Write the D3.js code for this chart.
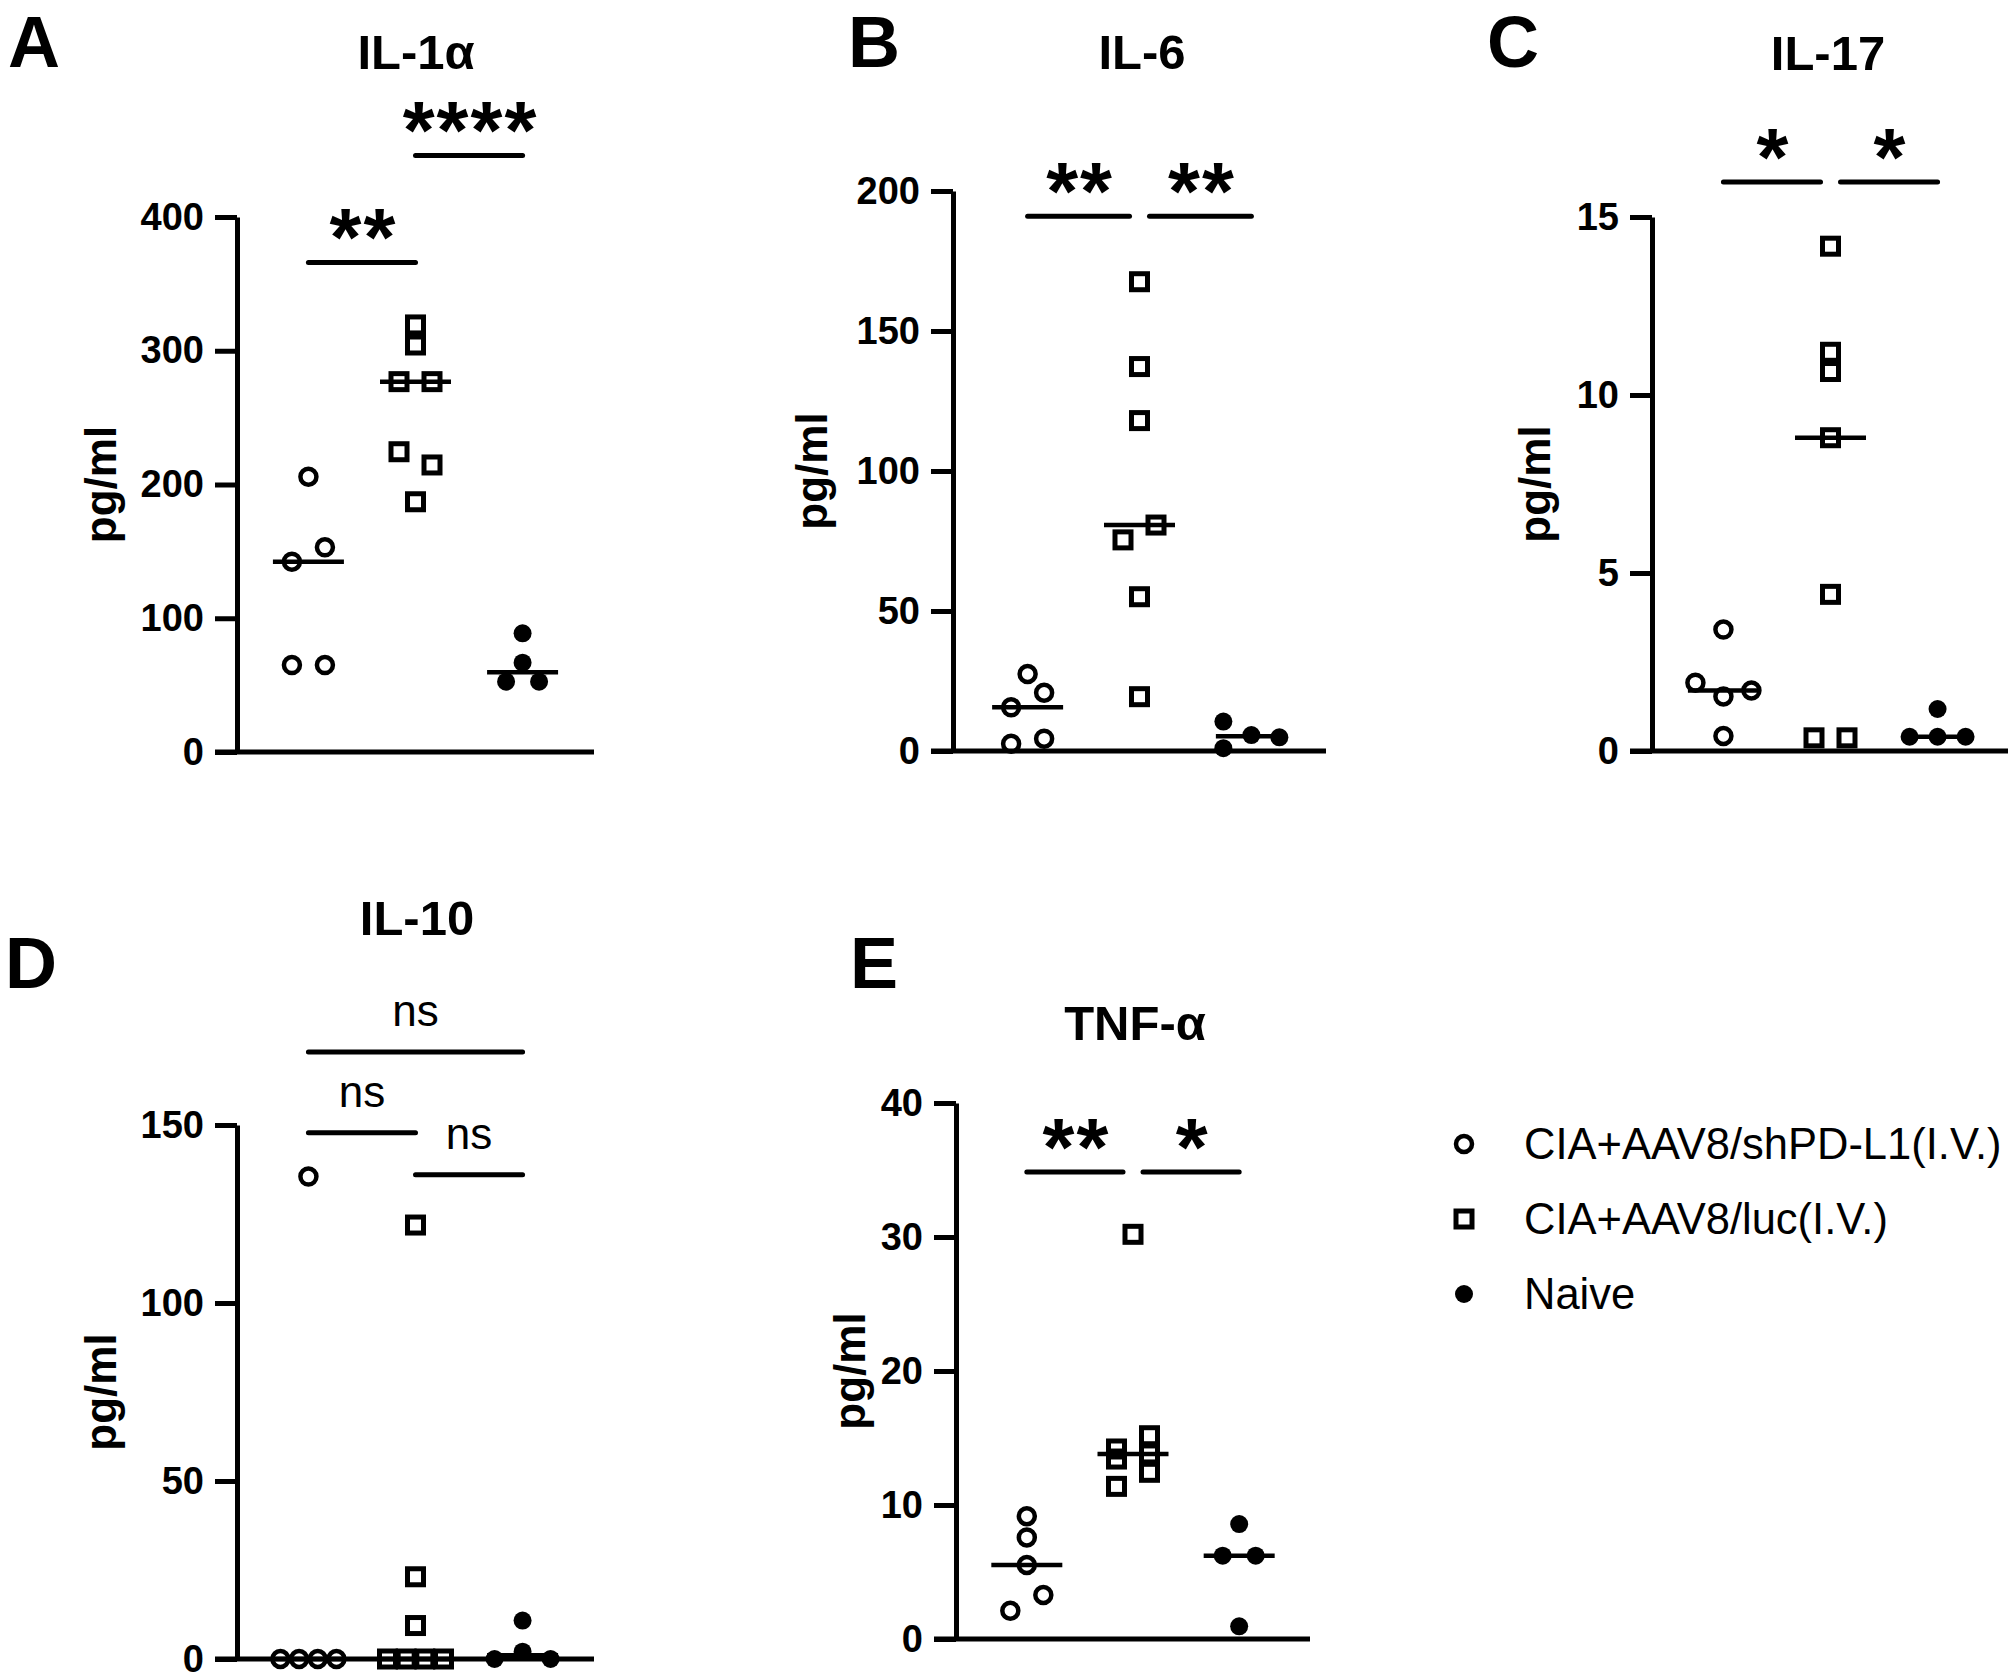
<!DOCTYPE html>
<html><head><meta charset="utf-8">
<script src="https://cdn.jsdelivr.net/npm/d3@7"></script>
<style>
html,body{margin:0;padding:0;background:#fff;}
svg{display:block;}
text{font-family:"Liberation Sans", Arial, Helvetica, sans-serif; fill:#000;}
</style></head><body>
<svg id="fig" width="2008" height="1680"></svg>
<script>
// ---------------- data ----------------
const groupNames = ["CIA+AAV8/shPD-L1(I.V.)", "CIA+AAV8/luc(I.V.)", "Naive"];
const cytokines = ["IL-1α", "IL-6", "IL-17", "IL-10", "TNF-α"];
const panelLetters = ["A", "B", "C", "D", "E"];
const yLabel = "pg/ml";

// IL-1α
const il1a_shPDL1 = [205.8, 142.3, 153.0, 65.0, 65.0];
const il1a_luc    = [319.3, 304.3, 276.9, 276.9, 224.5, 214.6, 187.1];
const il1a_naive  = [88.7, 66.8, 52.6, 52.6];
const il1a_ticks  = [0, 100, 200, 300, 400];
const il1a_sig    = [[0, 1, "**", 366], [1, 2, "****", 446]];

// IL-6
const il6_shPDL1 = [27.5, 15.6, 20.8, 2.6, 4.4];
const il6_luc    = [167.6, 137.3, 118.0, 75.4, 80.7, 55.1, 19.4];
const il6_naive  = [10.5, 5.7, 4.9, 1.0];
const il6_ticks  = [0, 50, 100, 150, 200];
const il6_sig    = [[0, 1, "**", 191], [1, 2, "**", 191]];

// IL-17
const il17_shPDL1 = [3.41, 1.92, 1.53, 1.70, 0.42];
const il17_luc    = [14.18, 11.20, 10.66, 8.80, 4.40, 0.37, 0.37];
const il17_naive  = [1.18, 0.40, 0.40, 0.40];
const il17_ticks  = [0, 5, 10, 15];
const il17_sig    = [[0, 1, "*", 15.98], [1, 2, "*", 15.98]];

// IL-10
const il10_shPDL1 = [135.5, 0, 0, 0, 0];
const il10_luc    = [121.9, 23.1, 9.4, 0, 0, 0, 0];
const il10_naive  = [10.8, 0, 2.06, 0];
const il10_ticks  = [0, 50, 100, 150];
const il10_sig    = [[0, 2, "ns", 170.5], [0, 1, "ns", 147.8], [1, 2, "ns", 136]];

// TNF-α
const tnf_shPDL1 = [9.16, 7.58, 5.52, 2.11, 3.28];
const tnf_luc    = [30.2, 14.18, 15.17, 13.43, 13.81, 11.39, 12.44];
const tnf_naive  = [8.58, 6.22, 6.22, 0.95];
const tnf_ticks  = [0, 10, 20, 30, 40];
const tnf_sig    = [[0, 1, "**", 34.85], [1, 2, "*", 34.85]];

// ---------------- layout (pixels) ----------------
const panels = [
  {series:[il1a_shPDL1, il1a_luc, il1a_naive], ticks:il1a_ticks, sig:il1a_sig,
   x0:237, W:357, yTop:217, yBot:752, letter:[8,67], title:[416,69], ylab:104},
  {series:[il6_shPDL1, il6_luc, il6_naive], ticks:il6_ticks, sig:il6_sig,
   x0:953, W:373, yTop:191, yBot:751, letter:[848,67], title:[1142,69], ylab:815},
  {series:[il17_shPDL1, il17_luc, il17_naive], ticks:il17_ticks, sig:il17_sig,
   x0:1652, W:357, yTop:217, yBot:751, letter:[1487,67], title:[1828,70], ylab:1538},
  {series:[il10_shPDL1, il10_luc, il10_naive], ticks:il10_ticks, sig:il10_sig,
   x0:237, W:357, yTop:1125, yBot:1659, letter:[5,988], title:[417,935], ylab:104},
  {series:[tnf_shPDL1, tnf_luc, tnf_naive], ticks:tnf_ticks, sig:tnf_sig,
   x0:956, W:354, yTop:1103, yBot:1639, letter:[850,988], title:[1135,1040], ylab:853}
];

const svg = d3.select("#fig");
const STROKE = 5;
const MARK = 17;           // marker footprint for overlap tests
const PAIR = 33, ROW = 56; // horizontal spreading

function drawMarker(g, type, x, y) {
  if (type === 0) {
    g.append("circle").attr("cx", x).attr("cy", y).attr("r", 8)
      .attr("fill", "none").attr("stroke", "#000").attr("stroke-width", 4.5);
  } else if (type === 1) {
    g.append("rect").attr("x", x - 8).attr("y", y - 8).attr("width", 16).attr("height", 16)
      .attr("fill", "none").attr("stroke", "#000").attr("stroke-width", 5);
  } else {
    g.append("circle").attr("cx", x).attr("cy", y).attr("r", 9).attr("fill", "#000");
  }
}

// scatter spreading of points that overlap vertically (Prism-like)
function spread(values, y, cx) {
  const pts = values.map((v, i) => ({v, i, py: y(v), px: cx}));
  const sorted = pts.slice().sort((a, b) => a.py - b.py || a.i - b.i);
  const bins = [];
  sorted.forEach(p => {
    const cur = bins[bins.length - 1];
    if (cur && p.py - cur[0].py < MARK) cur.push(p); else bins.push([p]);
  });
  const placed = [];
  bins.forEach(bin => {
    bin.sort((a, b) => a.i - b.i);
    const n = bin.length;
    if (n === 1) {
      const p = bin[0];
      const cands = [0, -ROW / 2, ROW / 2, -ROW, ROW];
      for (const c of cands) {
        const hit = placed.some(q => Math.abs(q.px - (cx + c)) < MARK && Math.abs(q.py - p.py) < MARK);
        if (!hit) { p.px = cx + c; break; }
      }
    } else {
      const sp = Math.min(PAIR, ROW / (n - 1));
      bin.forEach((p, k) => { p.px = cx + (k - (n - 1) / 2) * sp; });
    }
    bin.forEach(p => placed.push(p));
  });
  return pts;
}

panels.forEach((P, pi) => {
  const g = svg.append("g");
  const y = d3.scaleLinear().domain([0, d3.max(P.ticks)]).range([P.yBot, P.yTop]);
  const x = d3.scalePoint().domain([0, 1, 2]).range([P.x0, P.x0 + P.W]).padding(0.667);

  // panel letter & title
  g.append("text").attr("x", P.letter[0]).attr("y", P.letter[1])
    .attr("font-size", 72).attr("font-weight", "bold").text(panelLetters[pi]);
  g.append("text").attr("x", P.title[0]).attr("y", P.title[1]).attr("text-anchor", "middle")
    .attr("font-size", 49).attr("font-weight", "bold").text(cytokines[pi]);

  // y axis
  const ax = g.append("g").attr("transform", `translate(${P.x0},0)`)
    .call(d3.axisLeft(y).tickValues(P.ticks).tickSize(22).tickSizeOuter(0).tickPadding(11)
      .tickFormat(d3.format("d")));
  ax.select(".domain").attr("stroke", "#000").attr("stroke-width", STROKE);
  ax.selectAll(".tick line").attr("stroke", "#000").attr("stroke-width", STROKE);
  ax.selectAll(".tick text").attr("font-size", 38).attr("font-weight", "bold")
    .attr("font-family", "Liberation Sans, Arial, sans-serif").attr("fill", "#000");

  // x axis baseline
  g.append("line").attr("x1", P.x0 - 22).attr("x2", P.x0 + P.W)
    .attr("y1", y(0)).attr("y2", y(0)).attr("stroke", "#000").attr("stroke-width", STROKE);

  // y label
  const ymid = (P.yTop + P.yBot) / 2;
  g.append("text").attr("transform", `translate(${P.ylab + 12},${ymid}) rotate(-90)`)
    .attr("text-anchor", "middle").attr("font-size", 44).attr("font-weight", "bold").text(yLabel);

  // points and medians
  P.series.forEach((vals, gi) => {
    const cx = x(gi);
    const pts = spread(vals, y, cx);
    pts.forEach(p => drawMarker(g, gi, p.px, p.py));
    const med = d3.median(vals);
    g.append("line").attr("x1", cx - 35.5).attr("x2", cx + 35.5)
      .attr("y1", y(med)).attr("y2", y(med)).attr("stroke", "#000").attr("stroke-width", 4.5);
  });

  // significance bars
  P.sig.forEach(s => {
    const [a, b, label, level] = s;
    let x1 = x(a), x2 = x(b);
    if (P.sig.some(t => t !== s && t[3] === level && t[1] === a)) x1 += 10;
    if (P.sig.some(t => t !== s && t[3] === level && t[0] === b)) x2 -= 10;
    const yy = y(level);
    g.append("line").attr("x1", x1).attr("x2", x2).attr("y1", yy).attr("y2", yy)
      .attr("stroke", "#000").attr("stroke-width", STROKE).attr("stroke-linecap", "round");
    const mid = (x1 + x2) / 2;
    if (label === "ns") {
      g.append("text").attr("x", mid).attr("y", yy - 26).attr("text-anchor", "middle")
        .attr("font-size", 44).text(label);
    } else {
      g.append("text").attr("x", mid + 1.5).attr("y", yy + 3).attr("text-anchor", "middle")
        .attr("font-size", 82).attr("font-weight", "bold").attr("letter-spacing", 2).text(label);
    }
  });
});

// legend
const legY = [1144, 1219, 1294];
const leg = svg.append("g");
groupNames.forEach((name, i) => {
  drawMarker(leg, i, 1464, legY[i]);
  leg.append("text").attr("x", 1524).attr("y", legY[i] + 15)
    .attr("font-size", 43.5).text(name);
});
</script>
</body></html>
